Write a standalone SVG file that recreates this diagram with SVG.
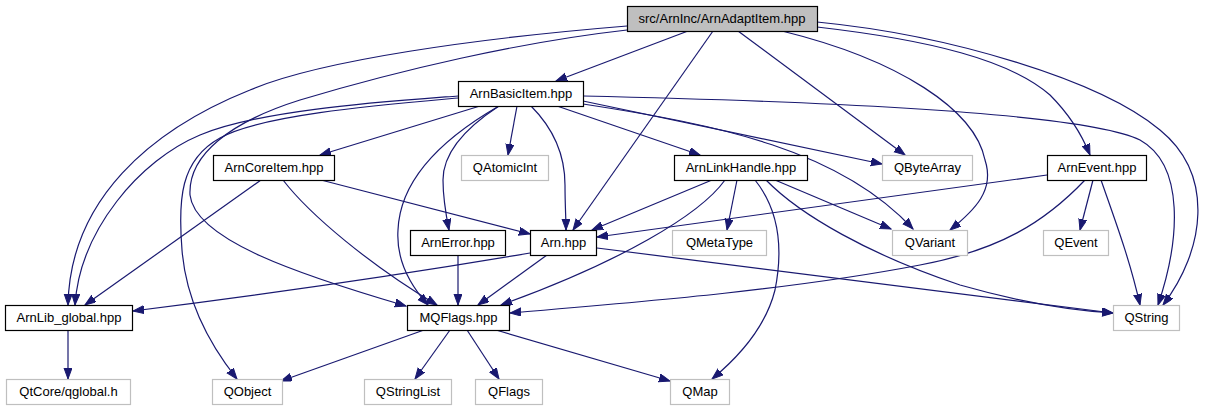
<svg xmlns="http://www.w3.org/2000/svg" width="1208" height="411" viewBox="0 0 1208 411">
<style>
.n rect{fill:#fff;stroke:#000;stroke-width:1.2}
.g rect{fill:#fff;stroke:#bfbfbf;stroke-width:1.2}
.r rect{fill:#bfbfbf;stroke:#000;stroke-width:1.2}
text{font-family:"Liberation Sans",Arial,sans-serif;font-size:13px;fill:#000;text-anchor:middle}
#edges path{fill:none;stroke:#191970;stroke-width:1.2;marker-end:url(#ah)}
</style>
<defs>
<marker id="ah" markerUnits="userSpaceOnUse" markerWidth="12" markerHeight="9" refX="11" refY="4" orient="auto" viewBox="0 0 12 9">
<path d="M0,0 L11,4 L0,8 z" fill="#191970" stroke="#191970"/>
</marker>
</defs>
<rect width="1208" height="411" fill="#fff"/>
<g id="edges">
<path d="M688,31 L556,81"/>
<path d="M627,26 C480,38 320,60 250,90 C150,130 70,200 68,305"/>
<path d="M627,30 C520,42 400,70 300,100 C230,122 188,155 190,195 C195,240 300,275 406,306"/>
<path d="M713,31 L573,230"/>
<path d="M738,31 L905,155"/>
<path d="M782,31 C900,60 975,110 985,160 C995,190 975,210 950,230"/>
<path d="M817,27 C930,40 1010,60 1050,95 C1070,115 1082,135 1090,155"/>
<path d="M817,22 C950,35 1100,80 1160,130 C1215,175 1205,250 1163,305"/>
<path d="M458,96 C380,102 260,110 200,135 C140,160 80,230 75,305"/>
<path d="M458,98 C380,105 260,115 220,138 C180,160 178,200 182,250 C186,300 210,345 237,379"/>
<path d="M480,106 L320,155"/>
<path d="M499,106 C440,140 400,180 398,230 C396,260 410,285 428,305"/>
<path d="M499,106 C470,125 443,150 443,180 C443,200 446,215 449,230"/>
<path d="M517,106 L508,155"/>
<path d="M531,106 C550,125 565,150 565,185 C565,205 566,218 566,230"/>
<path d="M557,106 L700,155"/>
<path d="M583,101 L882,164"/>
<path d="M583,104 C720,125 840,150 913,229"/>
<path d="M583,96 C850,102 1090,115 1140,140 C1185,165 1180,240 1158,305"/>
<path d="M261,180 L85,305"/>
<path d="M283,180 C310,215 370,265 437,305"/>
<path d="M321,180 L530,234"/>
<path d="M712,180 L592,230"/>
<path d="M725,180 C700,215 620,262 501,305"/>
<path d="M737,180 L727,230"/>
<path d="M775,180 L891,229"/>
<path d="M755,180 C775,205 785,240 775,290 C765,330 735,360 712,379"/>
<path d="M766,180 C800,215 870,255 960,285 C1030,305 1080,311 1113,313"/>
<path d="M1047,175 L597,237"/>
<path d="M1085,180 C1045,222 1000,250 920,265 C790,290 640,302 510,313"/>
<path d="M1093,180 L1080,230"/>
<path d="M1101,180 C1115,220 1130,260 1140,305"/>
<path d="M458,255 L458,305"/>
<path d="M547,255 L478,305"/>
<path d="M530,253 C430,270 300,290 133,311"/>
<path d="M597,248 L1113,313"/>
<path d="M424,330 L281,381"/>
<path d="M450,330 L415,379"/>
<path d="M467,330 L499,379"/>
<path d="M496,330 L670,381"/>
<path d="M68,330 L68,379"/>
</g>
<g id="n-root" class="r"><rect x="627.5" y="6.5" width="190" height="25"/><text x="722" y="23">src/ArnInc/ArnAdaptItem.hpp</text></g>
<g id="n-basic" class="n"><rect x="458.5" y="81.5" width="125" height="25"/><text x="521" y="98">ArnBasicItem.hpp</text></g>
<g id="n-atomic" class="g"><rect x="461.5" y="155.5" width="87" height="25"/><text x="505" y="172">QAtomicInt</text></g>
<g id="n-link" class="n"><rect x="674.5" y="155.5" width="133" height="25"/><text x="741" y="172">ArnLinkHandle.hpp</text></g>
<g id="n-bytearray" class="g"><rect x="882.5" y="155.5" width="90" height="25"/><text x="927.5" y="172">QByteArray</text></g>
<g id="n-event" class="n"><rect x="1047.5" y="155.5" width="99" height="25"/><text x="1097" y="172">ArnEvent.hpp</text></g>
<g id="n-core" class="n"><rect x="213.5" y="155.5" width="121" height="25"/><text x="274" y="172">ArnCoreItem.hpp</text></g>
<g id="n-libglobal" class="n"><rect x="5.5" y="305.5" width="127" height="25"/><text x="69" y="322">ArnLib_global.hpp</text></g>
<g id="n-qglobal" class="g"><rect x="6.5" y="379.5" width="124" height="25"/><text x="68.5" y="396">QtCore/qglobal.h</text></g>
<g id="n-qobject" class="g"><rect x="212.5" y="379.5" width="70" height="25"/><text x="247.5" y="396">QObject</text></g>
<g id="n-qstringlist" class="g"><rect x="364.5" y="379.5" width="87" height="25"/><text x="408" y="396">QStringList</text></g>
<g id="n-error" class="n"><rect x="410.5" y="230.5" width="95" height="25"/><text x="458" y="247">ArnError.hpp</text></g>
<g id="n-arn" class="n"><rect x="530.5" y="230.5" width="66" height="25"/><text x="563.5" y="247">Arn.hpp</text></g>
<g id="n-metatype" class="g"><rect x="672.5" y="230.5" width="94" height="25"/><text x="719.5" y="247">QMetaType</text></g>
<g id="n-mqflags" class="n"><rect x="407.5" y="305.5" width="102" height="25"/><text x="458.5" y="322">MQFlags.hpp</text></g>
<g id="n-qflags" class="g"><rect x="475.5" y="379.5" width="67" height="25"/><text x="509" y="396">QFlags</text></g>
<g id="n-qmap" class="g"><rect x="670.5" y="379.5" width="59" height="25"/><text x="700" y="396">QMap</text></g>
<g id="n-qvariant" class="g"><rect x="892.5" y="230.5" width="75" height="25"/><text x="930" y="247">QVariant</text></g>
<g id="n-qevent" class="g"><rect x="1043.5" y="230.5" width="65" height="25"/><text x="1076" y="247">QEvent</text></g>
<g id="n-qstring" class="g"><rect x="1113.5" y="305.5" width="66" height="25"/><text x="1146.5" y="322">QString</text></g>
</svg>
